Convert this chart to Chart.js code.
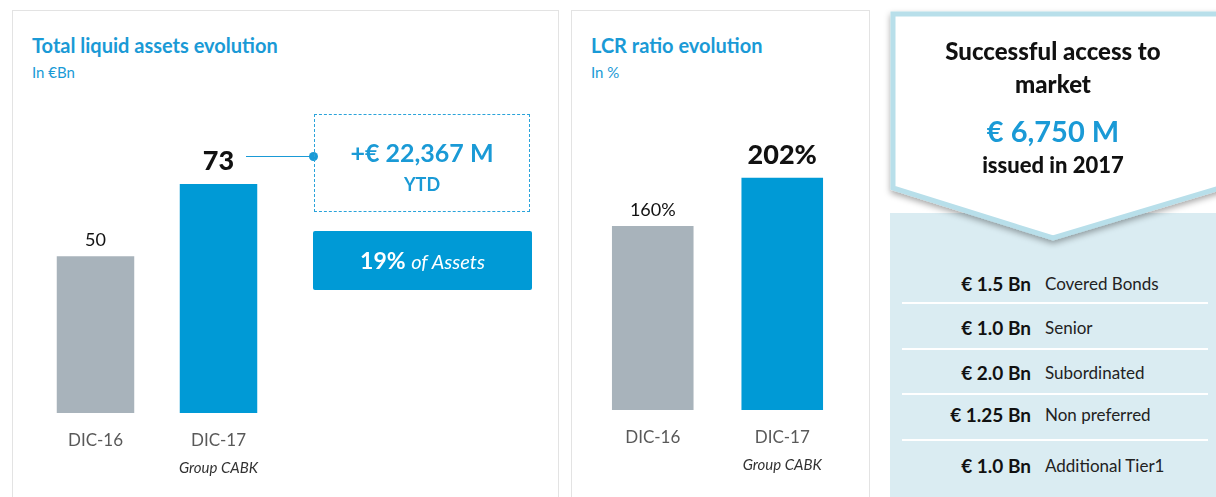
<!DOCTYPE html>
<html lang="en">
<head>
<meta charset="UTF-8">
<title>Liquidity</title>
<style>
  body { margin:0; width:1216px; height:497px; background:#fff; font-family: Lato, "Open Sans", sans-serif; position:relative; overflow:hidden; }
  .panel { position:absolute; border:1.5px solid #e3e3e3; border-bottom:none; background:#fff; }
  .titulo { position:absolute; color:#1a9ad6; font-weight:bold; font-size:20px; white-space:nowrap; }
  .sub { position:absolute; color:#1a9ad6; font-size:15px; }
  canvas { position:absolute; }
  .dashBox { position:absolute; left:314px; top:114px; width:216px; height:98px; border:1px dashed #2aa3da; box-sizing:border-box; text-align:center; color:#1a9ad6; font-weight:bold; }
  .blueBox { position:absolute; left:313px; top:231px; width:219px; height:59px; background:#009ad6; color:#fff; text-align:center; line-height:59px; font-size:23px; font-weight:bold; border-radius:2px; }
  .blueBox i { font-weight:normal; font-size:20px; }
  .conector { position:absolute; left:246px; top:156px; width:68px; height:1px; background:#1a9ad6; }
  .ponto { position:absolute; left:309px; top:152px; width:9px; height:9px; border-radius:50%; background:#1a9ad6; }
  .rows { position:absolute; left:890px; top:213px; width:326px; height:284px; background:#daecf2; }
  .linha { position:absolute; left:12px; width:306px; height:2px; background:#fff; }
  .amt { position:absolute; right:185px; font-weight:bold; font-size:19px; color:#111; white-space:nowrap; }
  .lab { position:absolute; left:155px; font-size:17px; color:#222; white-space:nowrap; }
  .cab { position:absolute; width:326px; left:890px; text-align:center; white-space:nowrap; }
</style>
</head>
<body>

<div class="panel" style="left:12px; top:10px; width:545px; height:490px;"></div>
<div class="panel" style="left:571px; top:10px; width:297px; height:490px;"></div>

<div class="titulo" style="left:32px; top:33px;">Total liquid assets evolution</div>
<div class="sub" style="left:32px; top:63px;">In €Bn</div>
<div class="titulo" style="left:591px; top:33px;">LCR ratio evolution</div>
<div class="sub" style="left:591px; top:63px;">In %</div>

<canvas id="graficoLiquidez"></canvas>
<canvas id="graficoLcr"></canvas>

<div class="conector"></div>
<div class="ponto"></div>
<div class="dashBox">
  <div style="font-size:25px; margin-top:22px;">+€ 22,367 M</div>
  <div style="font-size:18px; margin-top:6px;">YTD</div>
</div>
<div class="blueBox">19% <i>of Assets</i></div>

<div class="rows" id="rows"></div>
<svg style="position:absolute; left:0; top:0;" width="1216" height="497">
  <defs>
    <filter id="sombra" x="-10%" y="-10%" width="120%" height="130%">
      <feDropShadow dx="0" dy="3" stdDeviation="3" flood-color="#000" flood-opacity="0.35"/>
    </filter>
  </defs>
  <polygon points="893,14 1220,14 1220,188 1053,238 893,188" fill="#fff" stroke="#b8dfea" stroke-width="5" filter="url(#sombra)"/>
</svg>
<div class="cab" style="top:34px; font-weight:900; font-size:24px; color:#111; line-height:33px;">Successful access to<br>market</div>
<div class="cab" style="top:113px; font-size:29px; color:#1a9ad6; font-weight:bold;">€ 6,750 M</div>
<div class="cab" style="top:151px; font-size:22px; font-weight:900; color:#111;">issued in 2017</div>

<script src="https://cdn.jsdelivr.net/npm/chart.js"></script>
<script>
// dados
var categorias = ["DIC-16", "DIC-17"]
var subCategorias = ["", "Group CABK"]
var ativosLiquidos = [50, 73]
var lcr = [160, 202]
var emissaoValores = ["€ 1.5 Bn", "€ 1.0 Bn", "€ 2.0 Bn", "€ 1.25 Bn", "€ 1.0 Bn"]
var emissaoTipos = ["Covered Bonds", "Senior", "Subordinated", "Non preferred", "Additional Tier1"]

var coresBarras = ["#a8b3bb", "#009ad6"]

// tabela da direita
var rows = document.getElementById("rows")
var rowY = [71, 115, 160, 202, 253]
var linhaY = [89, 135, 180, 226]
for (var i = 0; i < emissaoValores.length; i++) {
  rows.innerHTML += '<div class="amt" style="top:' + (rowY[i] - 12) + 'px">' + emissaoValores[i] + '</div>'
  rows.innerHTML += '<div class="lab" style="top:' + (rowY[i] - 11) + 'px">' + emissaoTipos[i] + '</div>'
}
for (var j = 0; j < linhaY.length; j++) {
  rows.innerHTML += '<div class="linha" style="top:' + linhaY[j] + 'px"></div>'
}

// plugin para rotulos
function rotulos(sufixo, fonteNormal, fonteBold) {
  return {
    id: 'rotulos',
    afterDatasetsDraw: function (chart) {
      var ctx = chart.ctx
      var meta = chart.getDatasetMeta(0)
      var base = chart.scales.y.getPixelForValue(0)
      ctx.save()
      ctx.textAlign = 'center'
      meta.data.forEach(function (bar, k) {
        var v = chart.data.datasets[0].data[k]
        ctx.fillStyle = '#111'
        ctx.textBaseline = 'alphabetic'
        if (k == 1) {
          ctx.font = '900 ' + fonteBold + 'px Lato'
          ctx.fillText(v + sufixo, bar.x, bar.y - 14)
        } else {
          ctx.font = fonteNormal + 'px Lato'
          ctx.fillText(v + sufixo, bar.x, bar.y - 10)
        }
        ctx.fillStyle = '#595959'
        ctx.font = '17px Lato'
        ctx.textBaseline = 'middle'
        ctx.fillText(chart.data.labels[k], bar.x, base + 28)
        if (subCategorias[k]) {
          ctx.fillStyle = '#333'
          ctx.font = 'italic 15px Lato'
          ctx.fillText(subCategorias[k], bar.x, base + 55)
        }
      })
      ctx.restore()
    }
  }
}

function criarGrafico(id, left, top, w, h, dados, ymax, padTop, padBottom, sufixo, fN, fB) {
  var c = document.getElementById(id)
  c.style.left = left + 'px'
  c.style.top = top + 'px'
  c.width = w
  c.height = h
  return new Chart(c, {
    type: 'bar',
    data: {
      labels: categorias,
      datasets: [{
        data: dados,
        backgroundColor: coresBarras,
        borderWidth: 0,
        categoryPercentage: 0.63,
        barPercentage: 1
      }]
    },
    options: {
      responsive: false,
      animation: false,
      layout: { padding: { top: padTop, bottom: padBottom, left: 0, right: 0 } },
      plugins: { legend: { display: false }, tooltip: { enabled: false } },
      scales: {
        x: { display: false },
        y: { display: false, min: 0, max: ymax }
      }
    },
    plugins: [rotulos(sufixo, fN, fB)]
  })
}

criarGrafico('graficoLiquidez', 34, 120, 246, 375, ativosLiquidos, 80, 42, 82, '', 18, 27)
criarGrafico('graficoLcr', 588, 120, 259, 375, lcr, 220, 37, 85, '%', 18, 27)
</script>
</body>
</html>
